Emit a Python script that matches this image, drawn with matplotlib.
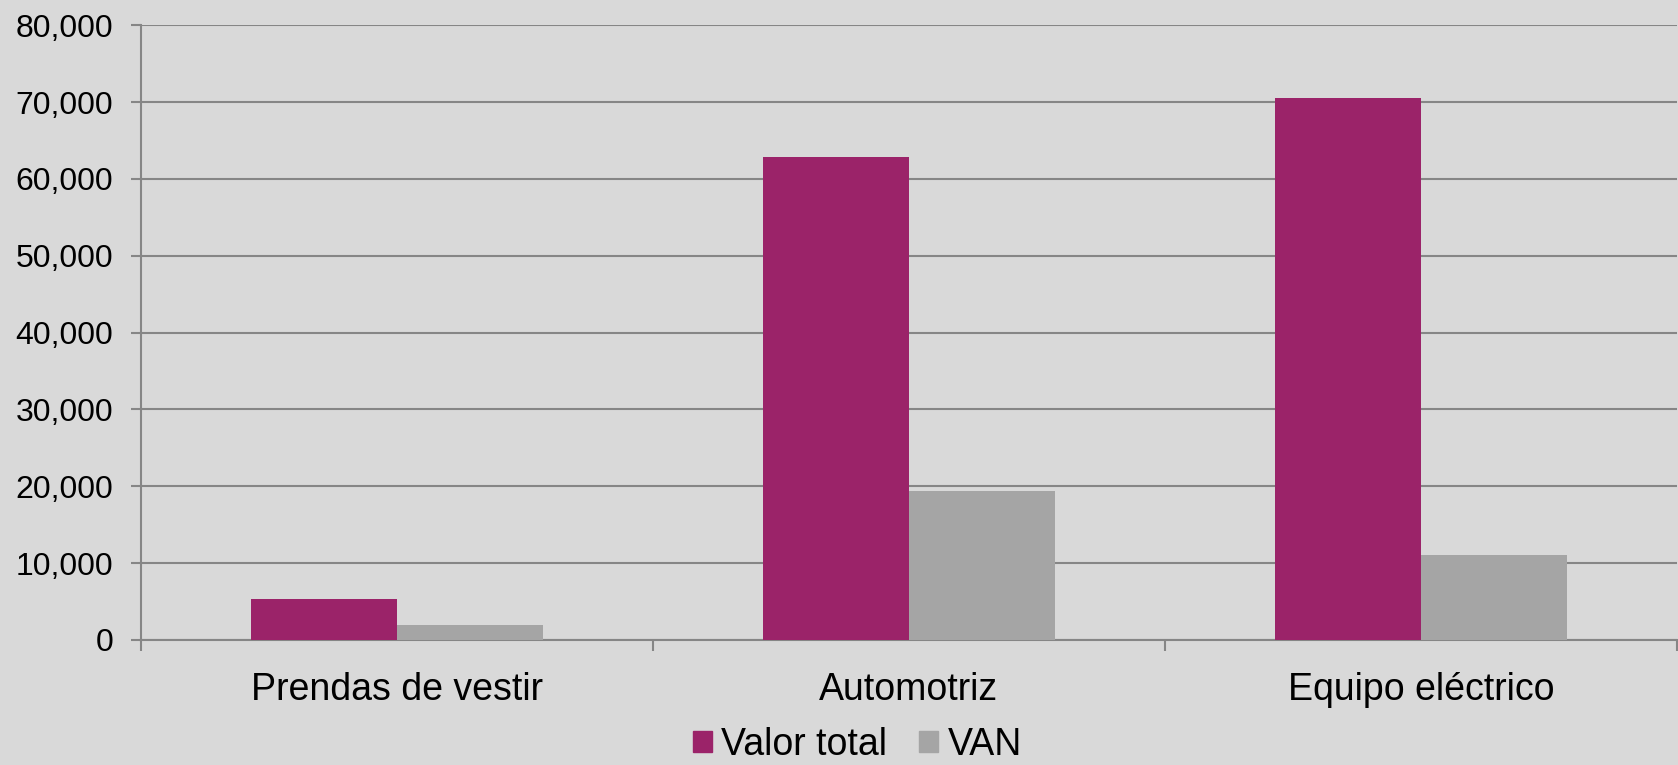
import numpy as np
import matplotlib.pyplot as plt
from matplotlib.patches import Patch
from matplotlib.ticker import FuncFormatter

# datos
categorias = ['Prendas de vestir', 'Automotriz', 'Equipo eléctrico']
valor_total = [5290, 62810, 70570]
van = [1910, 19410, 11090]

plt.rcParams['font.family'] = ['Liberation Sans', 'DejaVu Sans']

bg = '#d9d9d9'
c_total = '#9b2369'
c_van = '#a5a5a5'
c_grid = '#868686'

fig = plt.figure(figsize=(16.78, 7.65), dpi=100, facecolor=bg)
ax = fig.add_axes([0.084, 0.1634, 0.9154, 0.8036])
ax.set_facecolor(bg)

x = np.arange(len(categorias))
w = 0.286
ax.bar(x - w / 2, valor_total, w, color=c_total, zorder=3)
ax.bar(x + w / 2, van, w, color=c_van, zorder=3)

ax.set_xlim(-0.5, 2.5)
ax.set_ylim(0, 80000)
ax.set_yticks(np.arange(0, 80001, 10000))
ax.yaxis.set_major_formatter(FuncFormatter(lambda v, p: f'{int(v):,}'))
ax.grid(axis='y', color=c_grid, linewidth=1.5, zorder=0)

# ticks de categoría en los bordes
ax.set_xticks([-0.5, 0.5, 1.5, 2.5], minor=False)
ax.set_xticklabels([])
ax.set_xticks(x, minor=True)
ax.set_xticklabels(categorias, minor=True, fontsize=27)
ax.tick_params(axis='x', which='minor', length=0, pad=23)
ax.tick_params(axis='x', which='major', length=8, width=1.5, color=c_grid)
ax.tick_params(axis='y', length=7, width=1.5, color=c_grid, labelsize=23, pad=13)

for s in ['top', 'right']:
    ax.spines[s].set_visible(False)
for s in ['left', 'bottom']:
    ax.spines[s].set_color(c_grid)
    ax.spines[s].set_linewidth(1.5)

handles = [Patch(color=c_total, label='Valor total'), Patch(color=c_van, label='VAN')]
fig.legend(handles=handles, loc='center', bbox_to_anchor=(0.511, 0.026), ncol=2,
           frameon=False, fontsize=27, handlelength=0.5, handleheight=0.5,
           handletextpad=0.25, columnspacing=0.85, borderaxespad=0)

fig.savefig('out.png', dpi=100, facecolor=bg)
